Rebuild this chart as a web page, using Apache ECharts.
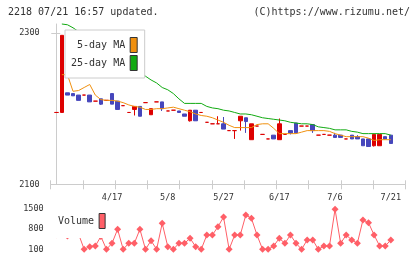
<!DOCTYPE html>
<html>
<head>
<meta charset="utf-8">
<script src="https://cdn.jsdelivr.net/npm/echarts@6/dist/echarts.min.js"></script>
<style>
html,body{margin:0;padding:0;background:#fff}
#chart{width:420px;height:259px}
</style>
</head>
<body>
<div id="chart"></div>
<script>
// price data, one entry per trading day
var openVals  = [2195,2195,2221,2220,2218,2218,2218,2210,2213,2211,2220,2210,2204,2195,2199,2203,2208,2192,2209,2209,
                 2197,2198,2197,2193,2184,2198,2195,2182,2180,2180,2180,2171,2171,2184,2188,2159,2177,2166,2160,2165,
                 2159,2166,2171,2181,2177,2177,2179,2165,2166,2165,2165,2165,2160,2165,2163,2160,2160,2151,2151,2163,2165];
var closeVals = [2195,2297,2218,2217,2211,2218,2209,2210,2206,2211,2206,2199,2204,2195,2203,2190,2208,2200,2209,2200,
                 2197,2198,2195,2190,2198,2184,2195,2182,2180,2180,2173,2171,2171,2190,2183,2180,2177,2166,2160,2160,
                 2180,2166,2168,2168,2177,2177,2171,2165,2166,2165,2162,2162,2160,2160,2160,2151,2150,2166,2166,2160,2154];
var lowVals   = [2195,2195,2218,2217,2211,2218,2209,2210,2205,2211,2206,2199,2204,2195,2191,2190,2208,2192,2209,2197,
                 2197,2198,2195,2190,2183,2184,2195,2182,2180,2180,2173,2171,2160,2171,2168,2159,2177,2166,2160,2160,
                 2159,2166,2166,2168,2177,2177,2168,2165,2166,2165,2162,2162,2160,2160,2160,2151,2150,2150,2151,2160,2154];
var highVals  = [2195,2297,2221,2220,2218,2218,2218,2210,2213,2211,2220,2210,2204,2195,2203,2203,2208,2200,2209,2209,
                 2197,2198,2197,2193,2198,2198,2195,2182,2180,2190,2189,2171,2171,2190,2188,2180,2177,2166,2160,2165,
                 2187,2166,2171,2181,2177,2177,2179,2165,2166,2165,2168,2165,2160,2165,2165,2160,2160,2166,2166,2163,2165];

var ma5Vals  = [null,2245,2245,2223,2224,2228,2232,2218,2212,2211,2211,2210,2208,2205,2203,2202,2199,2199,2200,2200,
                2201,2202,2200,2198,2196,2193,2191,2190,2188,2185,2182,2178,2175,2175,2175,2175,2179,2180,2180,2174,
                2167,2167,2167,2167,2169,2171,2171,2171,2171,2170,2167,2165,2163,2163,2163,2163,2161,2158,2159,2159,2159];
var ma25Vals = [null,2312,2311,2307,2302,2297,2292,2287,2282,2277,2272,2267,2263,2258,2253,2248,2243,2238,2234,2228,
                2225,2220,2213,2207,2207,2207,2207,2203,2201,2200,2198,2197,2195,2193,2193,2192,2190,2188,2187,2186,
                2185,2184,2182,2181,2180,2180,2179,2176,2175,2174,2172,2172,2172,2170,2169,2167,2167,2167,2167,2167,2165];

var volVals = [600,1200,554,800,622,100,189,213,537,100,305,783,100,305,305,783,100,394,100,988,
               189,100,305,305,476,189,100,588,588,872,1200,100,588,588,1271,1159,588,100,100,213,
               476,305,588,305,100,418,418,100,213,213,1466,305,588,418,305,1100,1008,588,213,213,418];

var dateLabels = ['4/17','5/8','5/27','6/17','7/6','7/21'];
var labelIdx   = [10,20,30,40,50,60];
var priceTicks = [2100,2300];

var upColor = '#dd0000', downColor = '#4646bc';
var xMin = -1, xMax = 62.6;
var xTicks = [];
for (var k = 0; k <= 11; k++) xTicks.push(xMin + k * (xMax - xMin) / 11);

var candleData = openVals.map(function(o, i){
  var c = closeVals[i];
  var col = c >= o ? upColor : downColor;
  return {
    value: [i, o, c, lowVals[i], highVals[i]],
    itemStyle: {color: col, color0: col, borderColor: col, borderColor0: col}
  };
});
function pairs(arr){
  var out = [];
  arr.forEach(function(v, i){ if (v != null) out.push([i, v]); });
  return out;
}
function plain(v){ return String(v); }

var mono = 'DejaVu Sans Mono';
var chart = echarts.init(document.getElementById('chart'));
chart.setOption({
  animation: false,
  title: [
    {text: '2218 07/21 16:57 updated.', left: 8, top: 7, padding: 0,
     textStyle: {fontFamily: mono, fontSize: 10, fontWeight: 'normal', color: '#333'}},
    {text: '(C)https://www.rizumu.net/', right: 10, top: 7, padding: 0,
     textStyle: {fontFamily: mono, fontSize: 10, fontWeight: 'normal', color: '#333'}}
  ],
  legend: [
    {
      data: [{name: '5-day MA', icon: 'rect'}, {name: '25-day MA', icon: 'rect'}],
      orient: 'vertical', align: 'right', left: 65, top: 30,
      padding: [7, 7, 7, 6], itemWidth: 7, itemHeight: 15, itemGap: 2,
      backgroundColor: '#fff', borderColor: '#ccc', borderWidth: 1,
      selectedMode: false,
      itemStyle: {borderColor: '#333', borderWidth: 1},
      textStyle: {fontFamily: mono, fontSize: 10, color: '#333'}
    },
    {
      data: [{name: 'Volume', icon: 'rect'}],
      orient: 'vertical', align: 'right', left: 52, top: 206,
      padding: [7, 7, 9, 6], itemWidth: 6, itemHeight: 15,
      backgroundColor: '#fff', borderWidth: 0,
      selectedMode: false,
      itemStyle: {borderColor: '#333', borderWidth: 1},
      textStyle: {fontFamily: mono, fontSize: 10, color: '#333'}
    }
  ],
  grid: [
    {left: 50.7, right: 14.7, top: 24, bottom: 74.7},
    {left: 50.7, right: 14.7, top: 208.3, bottom: 9.7}
  ],
  xAxis: [
    {type: 'value', gridIndex: 0, min: xMin, max: xMax, position: 'bottom',
     axisLine: {show: true, lineStyle: {color: '#ccc'}},
     axisTick: {show: true, length: 5, customValues: xTicks, lineStyle: {color: '#ccc'}},
     axisLabel: {show: true, margin: 9, customValues: labelIdx, fontFamily: mono, fontSize: 8.5, color: '#333',
       formatter: function(v){ var k = labelIdx.indexOf(Math.round(v)); return k >= 0 ? dateLabels[k] : ''; }},
     splitLine: {show: false}},
    {type: 'value', gridIndex: 0, min: xMin, max: xMax, position: 'bottom',
     axisLine: {show: false},
     axisTick: {show: true, inside: true, length: 4, customValues: xTicks, lineStyle: {color: '#ccc'}},
     axisLabel: {show: false}, splitLine: {show: false}},
    {type: 'value', gridIndex: 1, min: xMin, max: xMax, show: false}
  ],
  yAxis: [
    {type: 'value', gridIndex: 0, min: 2100, max: 2312, position: 'left',
     axisLine: {show: true, lineStyle: {color: '#ccc'}},
     axisTick: {show: true, length: 5, customValues: priceTicks, lineStyle: {color: '#ccc'}},
     axisLabel: {margin: 11, customValues: priceTicks, fontFamily: mono, fontSize: 8.5, color: '#333', formatter: plain},
     splitLine: {show: false}},
    {type: 'value', gridIndex: 0, min: 2100, max: 2312, position: 'left',
     axisLine: {show: false},
     axisTick: {show: true, inside: true, length: 4, customValues: priceTicks, lineStyle: {color: '#ccc'}},
     axisLabel: {show: false}, splitLine: {show: false}},
    {type: 'value', gridIndex: 1, min: 100, max: 1500, interval: 700,
     axisLine: {show: false}, axisTick: {show: false},
     axisLabel: {margin: 7, fontFamily: mono, fontSize: 8.5, color: '#333', formatter: plain},
     splitLine: {show: false}}
  ],
  series: [
    {type: 'candlestick', name: 'price', xAxisIndex: 0, yAxisIndex: 0,
     barWidth: 4, encode: {x: 0, y: [1, 2, 3, 4]},
     itemStyle: {color: upColor, color0: downColor, borderColor: upColor, borderColor0: downColor, borderWidth: 1},
     data: candleData},
    {type: 'line', name: '5-day MA', xAxisIndex: 0, yAxisIndex: 0, showSymbol: false, z: 3,
     itemStyle: {color: '#f0900f'}, lineStyle: {color: '#f0900f', width: 1},
     data: pairs(ma5Vals)},
    {type: 'line', name: '25-day MA', xAxisIndex: 0, yAxisIndex: 0, showSymbol: false, z: 3, clip: false,
     itemStyle: {color: '#11aa11'}, lineStyle: {color: '#11aa11', width: 1},
     data: pairs(ma25Vals)},
    {type: 'line', name: 'Volume', xAxisIndex: 2, yAxisIndex: 2, clip: false,
     symbol: 'diamond', symbolSize: 7,
     itemStyle: {color: '#ff5f67'}, lineStyle: {color: '#ff5f67', width: 1},
     data: pairs(volVals)}
  ]
});
</script>
</body>
</html>
